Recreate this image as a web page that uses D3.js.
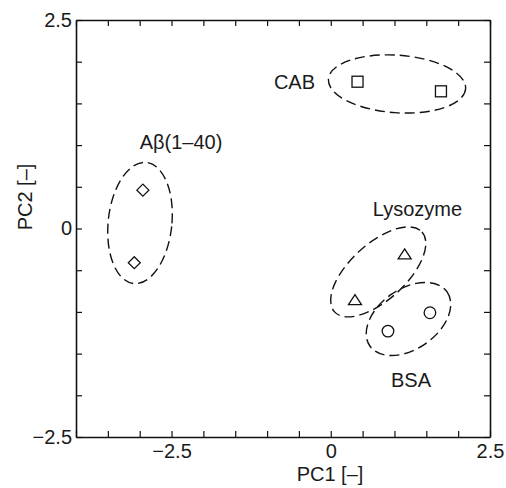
<!DOCTYPE html>
<html>
<head>
<meta charset="utf-8">
<script src="https://cdn.jsdelivr.net/npm/d3@7"></script>
<style>
  html, body { margin: 0; padding: 0; background: #fff; }
  svg text { font-family: "Liberation Sans", Arial, Helvetica, sans-serif; fill: #1a1a1a; }
</style>
</head>
<body>
<svg id="chart" width="506" height="488"></svg>
<script>
// ---- data ----
const xTicks = [-4, -3.5, -3, -2.5, -2, -1.5, -1, -0.5, 0, 0.5, 1, 1.5, 2, 2.5];
const yTicks = [-2.5, -2, -1.5, -1, -0.5, 0, 0.5, 1, 1.5, 2, 2.5];
const labeledTicks = [-2.5, 0, 2.5];

const groups = ["Aβ(1–40)", "CAB", "Lysozyme", "BSA"];
const groupShape = ["diamond", "square", "triangle", "circle"];

const abPC1 = [-2.95, -3.085];
const abPC2 = [0.46, -0.41];
const cabPC1 = [0.42, 1.73];
const cabPC2 = [1.76, 1.645];
const lysPC1 = [1.16, 0.38];
const lysPC2 = [-0.31, -0.86];
const bsaPC1 = [0.898, 1.557];
const bsaPC2 = [-1.23, -1.01];

// cluster ellipses (centre and semi-axes in data units, tilt in degrees)
const ellCX = [-2.995, 1.04, 0.745, 1.22];
const ellCY = [0.066, 1.733, -0.52, -1.085];
const ellRX = [0.50, 1.08, 0.93, 0.74];
const ellRY = [0.73, 0.345, 0.336, 0.36];
const ellTilt = [6, 4, -42.5, -35];

// label anchor points (data units)
const labelX = [-2.351, -0.247, 1.362, 1.26];
const labelY = [0.953, 1.673, 0.15, -1.90];
const labelAnchor = ["middle", "end", "middle", "middle"];

// ---- chart ----
const svg = d3.select("#chart");
const mLeft = 76, mRight = 490, mTop = 20, mBottom = 437;
const x = d3.scaleLinear().domain([-4, 2.5]).range([mLeft, mRight]);
const y = d3.scaleLinear().domain([-2.5, 2.5]).range([mBottom, mTop]);
const kx = x(1) - x(0);
const ky = y(0) - y(1);

const fmt = d => labeledTicks.includes(d) ? (d < 0 ? "\u2212" + Math.abs(d) : String(d)) : "";
const tickLen = 6;
const fs = 20;

const gB = svg.append("g").attr("transform", `translate(0,${mBottom})`)
  .call(d3.axisBottom(x).tickValues(xTicks).tickSizeInner(-tickLen).tickSizeOuter(0).tickPadding(7).tickFormat(fmt));
const gT = svg.append("g").attr("transform", `translate(0,${mTop})`)
  .call(d3.axisTop(x).tickValues(xTicks).tickSizeInner(-tickLen).tickSizeOuter(0).tickFormat(""));
const gL = svg.append("g").attr("transform", `translate(${mLeft},0)`)
  .call(d3.axisLeft(y).tickValues(yTicks).tickSizeInner(-tickLen).tickSizeOuter(0).tickPadding(4).tickFormat(fmt));
const gR = svg.append("g").attr("transform", `translate(${mRight},0)`)
  .call(d3.axisRight(y).tickValues(yTicks).tickSizeInner(-tickLen).tickSizeOuter(0).tickFormat(""));

[gB, gT, gL, gR].forEach(g => {
  g.select(".domain").attr("stroke", "#111").attr("stroke-width", 1.6);
  g.selectAll(".tick line").attr("stroke", "#111").attr("stroke-width", 1.2);
  g.selectAll(".tick text").attr("font-size", fs).attr("fill", "#1a1a1a")
    .attr("font-family", '"Liberation Sans", Arial, sans-serif');
});

svg.append("text").attr("x", 330).attr("y", 481).attr("text-anchor", "middle")
  .attr("font-size", fs).text("PC1 [–]");
svg.append("text").attr("transform", "translate(32,197) rotate(-90)").attr("text-anchor", "middle")
  .attr("font-size", fs).text("PC2 [–]");

groups.forEach((g, i) => {
  svg.append("ellipse")
    .attr("transform", `translate(${x(ellCX[i])},${y(ellCY[i])}) rotate(${ellTilt[i]})`)
    .attr("rx", ellRX[i] * kx)
    .attr("ry", ellRY[i] * ky)
    .attr("fill", "none")
    .attr("stroke", "#111")
    .attr("stroke-width", 1.4)
    .attr("stroke-dasharray", "10,5");
});

const series = [[abPC1, abPC2], [cabPC1, cabPC2], [lysPC1, lysPC2], [bsaPC1, bsaPC2]];
series.forEach(([px, py], i) => {
  const pts = px.map((v, j) => [x(v), y(py[j])]);
  const shape = groupShape[i];
  pts.forEach(([cx, cy]) => {
    let el;
    if (shape === "diamond") {
      el = svg.append("path").attr("d", `M${cx},${cy - 6}L${cx + 6},${cy}L${cx},${cy + 6}L${cx - 6},${cy}Z`);
    } else if (shape === "square") {
      el = svg.append("rect").attr("x", cx - 5.5).attr("y", cy - 5.5).attr("width", 11).attr("height", 11);
    } else if (shape === "triangle") {
      el = svg.append("path").attr("d", `M${cx},${cy - 5.5}L${cx + 6.5},${cy + 4.5}L${cx - 6.5},${cy + 4.5}Z`);
    } else {
      el = svg.append("circle").attr("cx", cx).attr("cy", cy).attr("r", 5.8);
    }
    el.attr("fill", "none").attr("stroke", "#111").attr("stroke-width", 1.3);
  });
});

groups.forEach((g, i) => {
  svg.append("text").attr("x", x(labelX[i])).attr("y", y(labelY[i]))
    .attr("text-anchor", labelAnchor[i]).attr("font-size", fs).text(g);
});
</script>
</body>
</html>
